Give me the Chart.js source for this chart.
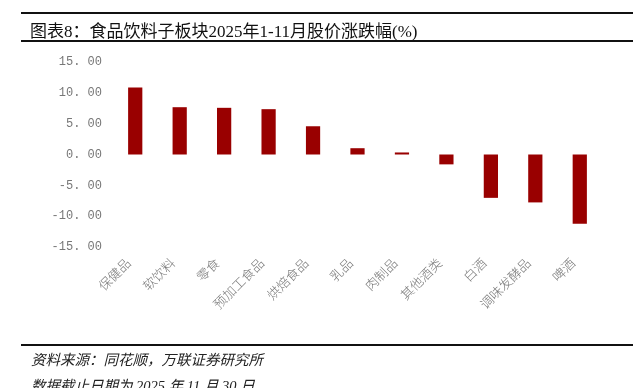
<!DOCTYPE html>
<html>
<head>
<meta charset="utf-8">
<script src="https://cdn.jsdelivr.net/npm/chart.js@4"></script>
<style>
  html, body { margin: 0; padding: 0; background: #fff; }
  #wrap { position: relative; width: 633px; height: 388px; overflow: hidden; }
  #chart { position: absolute; left: 0; top: 0; }
  .rule { position: absolute; left: 21px; right: 0; height: 2px; background: #111; }
  #title { position: absolute; left: 30px; top: 17px; font: 17px "Liberation Serif", "Noto Sans CJK SC", serif; color: #111; white-space: nowrap; }
  .note { position: absolute; left: 31px; font: italic 14.5px "Liberation Serif", "Noto Sans CJK SC", serif; color: #222; white-space: nowrap; }
</style>
</head>
<body>
<div id="wrap">
  <canvas id="chart" width="633" height="388"></canvas>
  <div class="rule" style="top:12px"></div>
  <div id="title">图表8：食品饮料子板块2025年1-11月股价涨跌幅(%)</div>
  <div class="rule" style="top:40px"></div>
  <div class="rule" style="top:344px"></div>
  <div class="note" style="top:348px">资料来源：同花顺，万联证券研究所</div>
  <div class="note" style="top:374px">数据截止日期为 2025 年 11 月 30 日</div>
</div>
<script>
// 子板块
const categories = ["保健品", "软饮料", "零食", "预加工食品", "烘焙食品", "乳品", "肉制品", "其他酒类", "白酒", "调味发酵品", "啤酒"];
// 2025年1-11月涨跌幅(%)
const changes = [10.86, 7.67, 7.57, 7.35, 4.58, 1.02, 0.33, -1.60, -7.03, -7.77, -11.23];
const yTicks = [-15, -10, -5, 0, 5, 10, 15];

(async function () {
    new Chart(
        document.getElementById('chart'),
        {
            type: 'bar',
            data: {
                labels: categories,
                datasets: [
                    {
                        label: '涨跌幅',
                        data: changes,
                        backgroundColor: '#990000',
                        borderWidth: 0,
                        categoryPercentage: 1,
                        barPercentage: 0.32
                    }
                ]
            },
            options: {
                responsive: false,
                animation: false,
                layout: {
                    padding: { top: 62, right: 31, left: 0, bottom: 0 }
                },
                plugins: {
                    legend: { display: false },
                    tooltip: { enabled: false }
                },
                scales: {
                    x: {
                        grid: { display: false },
                        border: { display: false },
                        ticks: {
                            minRotation: 45,
                            maxRotation: 45,
                            padding: 0,
                            labelOffset: -7,
                            color: '#777',
                            font: { family: '"Noto Sans CJK SC"', size: 13, weight: 300 }
                        },
                        afterFit: function (scale) { scale.height = 141; }
                    },
                    y: {
                        min: -15,
                        max: 15,
                        grid: { display: false },
                        border: { display: false },
                        afterBuildTicks: function (scale) {
                            scale.ticks = yTicks.map(function (v) { return { value: v }; });
                        },
                        ticks: {
                            padding: 3,
                            color: '#777',
                            font: { family: '"Liberation Mono"', size: 12 },
                            callback: function (v) { return v.toFixed(2).replace('.', '. '); }
                        },
                        afterFit: function (scale) { scale.width = 113; }
                    }
                }
            }
        }
    );
})();
</script>
</body>
</html>
